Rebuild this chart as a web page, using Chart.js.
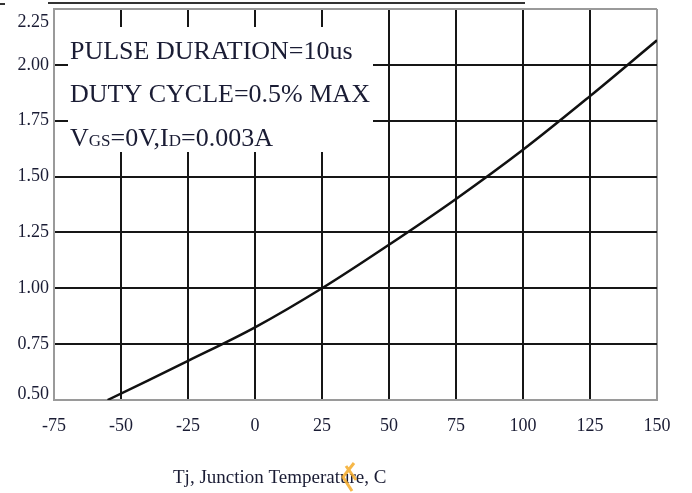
<!DOCTYPE html>
<html>
<head>
<meta charset="utf-8">
<script src="https://cdn.jsdelivr.net/npm/chart.js@4/dist/chart.umd.min.js"></script>
<style>
  html, body { margin: 0; padding: 0; background: #fff; }
  #wrap { width: 692px; height: 493px; }
</style>
</head>
<body>
<div id="wrap"><canvas id="chart"></canvas></div>
<script>
// Values
const tempC = [-55, -25, 0, 25, 50, 75, 100, 125, 150];
const vNorm = [0.50, 0.675, 0.825, 1.00, 1.195, 1.40, 1.62, 1.86, 2.11];
const xTicks = [-75, -50, -25, 0, 25, 50, 75, 100, 125, 150];
const yTicks = ['0.50', '0.75', '1.00', '1.25', '1.50', '1.75', '2.00', '2.25'];
const noteLines = ['PULSE DURATION=10us', 'DUTY CYCLE=0.5% MAX'];
const axisTitle = 'Tj, Junction Temperature, C';

const serif = '"Liberation Serif", "DejaVu Serif", serif';
const textColor = '#1a1c34';

// Draws the condition box, the y labels and the axis title
const decorPlugin = {
    id: 'decor',
    beforeDatasetsDraw(chart) {
        const ctx = chart.ctx;
        ctx.save();
        ctx.fillStyle = '#fff';
        ctx.fillRect(68, 27, 305, 125);

        ctx.fillStyle = textColor;
        ctx.textBaseline = 'alphabetic';
        ctx.textAlign = 'left';
        ctx.font = '26px ' + serif;
        ctx.fillText(noteLines[0], 70, 59);
        ctx.fillText(noteLines[1], 70, 102);

        // VGS=0V,ID=0.003A with small subscripts
        let x = 70;
        const parts = [['V', 26], ['GS', 17], ['=0V,I', 26], ['D', 17], ['=0.003A', 26]];
        parts.forEach(p => {
            ctx.font = p[1] + 'px ' + serif;
            ctx.fillText(p[0], x, 146);
            x += ctx.measureText(p[0]).width;
        });
        ctx.restore();
    },
    afterDraw(chart) {
        const ctx = chart.ctx;
        const ys = chart.scales.y;
        const area = chart.chartArea;
        ctx.save();

        // y tick labels, kept inside the frame like the original
        ctx.fillStyle = textColor;
        ctx.font = '18px ' + serif;
        ctx.textAlign = 'right';
        ctx.textBaseline = 'middle';
        yTicks.forEach(t => {
            let py = ys.getPixelForValue(parseFloat(t));
            py = Math.max(area.top + 13, Math.min(area.bottom - 6, py));
            ctx.fillText(t, area.left - 5, py);
        });

        // axis title
        ctx.textAlign = 'left';
        ctx.textBaseline = 'alphabetic';
        ctx.font = '19px ' + serif;
        ctx.fillText(axisTitle, 173, 483);

        // rule above the chart from the page
        ctx.strokeStyle = '#333';
        ctx.lineWidth = 2;
        ctx.beginPath();
        ctx.moveTo(48, 3);
        ctx.lineTo(525, 3);
        ctx.moveTo(0, 4);
        ctx.lineTo(5, 4);
        ctx.stroke();

        // orange cursor mark
        ctx.strokeStyle = 'rgba(245, 170, 40, 0.85)';
        ctx.lineWidth = 3;
        ctx.beginPath();
        ctx.moveTo(354, 463);
        ctx.lineTo(343, 477);
        ctx.lineTo(352, 491);
        ctx.moveTo(346, 466);
        ctx.lineTo(356, 480);
        ctx.stroke();
        ctx.restore();
    }
};

document.addEventListener('DOMContentLoaded', function() {
    const ctx = document.getElementById('chart').getContext('2d');
    const edgeGray = '#9a9a9a';

    new Chart(ctx, {
        type: 'line',
        data: {
            datasets: [{
                data: tempC.map((t, i) => ({ x: t, y: vNorm[i] })),
                borderColor: '#111',
                borderWidth: 2.5,
                pointRadius: 0,
                tension: 0.35,
                fill: false
            }]
        },
        options: {
            responsive: true,
            maintainAspectRatio: false,
            animation: false,
            layout: { padding: { top: 9, right: 35, left: 0, bottom: 0 } },
            plugins: {
                legend: { display: false },
                tooltip: { enabled: false }
            },
            scales: {
                x: {
                    type: 'linear',
                    min: -75,
                    max: 150,
                    afterBuildTicks: axis => { axis.ticks = xTicks.map(v => ({ value: v })); },
                    afterFit: axis => { axis.height = 93; },
                    grid: {
                        drawTicks: false,
                        lineWidth: 2,
                        color: c => (c.tick && (c.tick.value === -75 || c.tick.value === 150)) ? edgeGray : '#161616'
                    },
                    border: { color: edgeGray, width: 2 },
                    ticks: {
                        padding: 15,
                        color: textColor,
                        font: { family: serif, size: 18 }
                    }
                },
                y: {
                    min: 0.5,
                    max: 2.25,
                    afterBuildTicks: axis => { axis.ticks = yTicks.map(v => ({ value: parseFloat(v) })); },
                    afterFit: axis => { axis.width = 54; },
                    grid: {
                        drawTicks: false,
                        lineWidth: 2,
                        color: c => (c.tick && (c.tick.value === 0.5 || c.tick.value === 2.25)) ? edgeGray : '#161616'
                    },
                    border: { color: edgeGray, width: 2 },
                    ticks: { display: false }
                }
            }
        },
        plugins: [decorPlugin]
    });
});
</script>
</body>
</html>
